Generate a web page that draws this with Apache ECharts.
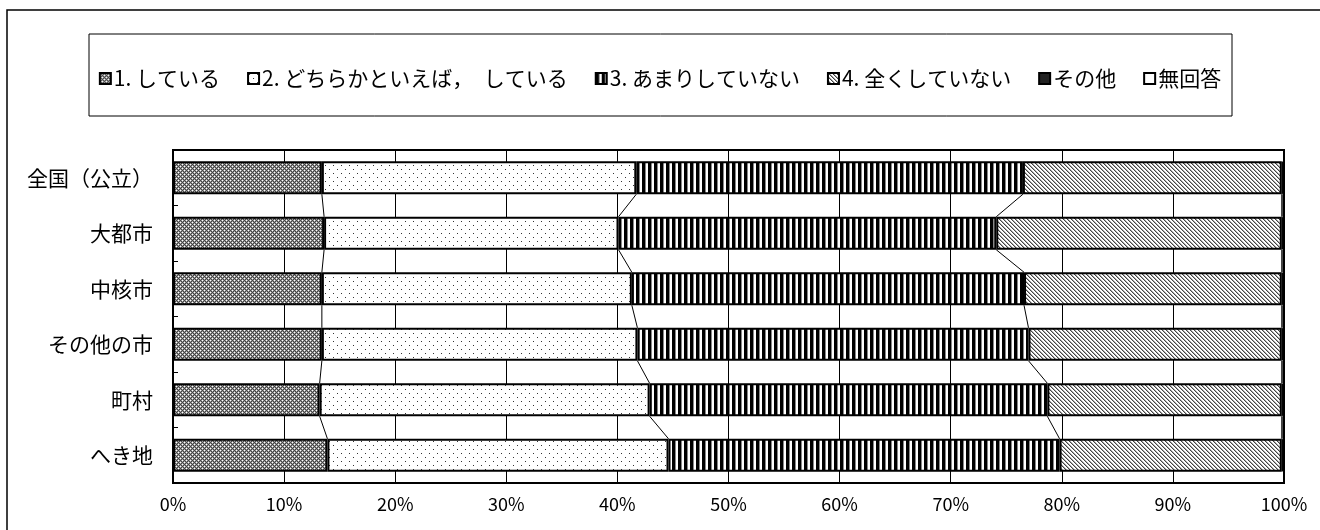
<!DOCTYPE html>
<html><head><meta charset="utf-8">
<script src="https://cdn.jsdelivr.net/npm/echarts@6/dist/echarts.min.js"></script>
<style>html,body{margin:0;padding:0;background:#fff}#c{width:1320px;height:530px}</style>
</head><body><div id="c"></div>
<script>
const categories = ['全国（公立）','大都市','中核市','その他の市','町村','へき地'];
const seriesNames = ['1. している','2. どちらかといえば，　している','3. あまりしていない','4. 全くしていない','その他','無回答'];
const s1 = [13.4, 13.6, 13.4, 13.4, 13.2, 13.9];
const s2 = [28.3, 26.5, 27.9, 28.4, 29.7, 30.7];
const s3 = [34.8, 34.0, 35.3, 35.2, 35.8, 35.2];
const s4 = [23.3, 25.7, 23.2, 22.8, 21.1, 20.0];
const s5 = [0.1, 0.1, 0.1, 0.1, 0.1, 0.1];
const s6 = [0.1, 0.1, 0.1, 0.1, 0.1, 0.1];
const xTickMin = 0, xTickMax = 100, xTickStep = 10;

const FONT = '"Noto Sans CJK JP", "Noto Sans", sans-serif';
const BAR_W = 33;

function makePattern(w, h, draw) {
  const c = document.createElement('canvas');
  c.width = w; c.height = h;
  const g = c.getContext('2d');
  g.fillStyle = '#fff'; g.fillRect(0, 0, w, h);
  draw(g);
  return { image: c, repeat: 'repeat' };
}
function px(g, x, y, col) { g.fillStyle = col; g.fillRect(x, y, 1, 1); }

const pat1 = makePattern(4, 4, g => {
  g.fillStyle = '#9a9a9a'; g.fillRect(0, 0, 4, 4);
  for (let x = 0; x < 4; x++) for (let y = 0; y < 4; y++) {
    if ((x - y + 4) % 4 === 0 || (x + y) % 4 === 0) px(g, x, y, '#444');
  }
  px(g, 0, 2, '#fff'); px(g, 2, 0, '#fff');
});
const pat2 = makePattern(8, 8, g => {
  px(g, 1, 1, '#333'); px(g, 5, 5, '#333');
});
const pat3 = makePattern(6, 1, g => {
  g.fillStyle = '#000'; g.fillRect(0, 0, 3, 1);
  px(g, 3, 0, '#888');
});
const pat4 = makePattern(4, 4, g => {
  for (let i = 0; i < 4; i++) { px(g, i, i, '#444'); px(g, (i + 1) % 4, i, '#aaa'); }
});
const pat5 = makePattern(4, 4, g => { g.fillStyle = '#222'; g.fillRect(0, 0, 4, 4); });
const pat6 = '#ffffff';

const allSeries = [s1, s2, s3, s4, s5, s6];
const pats = [pat1, pat2, pat3, pat4, pat5, pat6];

function cum(i, k) { let s = 0; for (let j = 0; j < k; j++) s += allSeries[j][i]; return s; }
const lineData = [];
for (let i = 0; i < categories.length - 1; i++) {
  for (let k = 1; k <= allSeries.length - 1; k++) {
    lineData.push([cum(i, k), i, cum(i + 1, k), i + 1]);
  }
}

const series = allSeries.map((d, idx) => ({
  name: seriesNames[idx], type: 'bar', stack: 'a', barWidth: BAR_W, data: d,
  itemStyle: { color: pats[idx], borderColor: '#000', borderWidth: idx >= 4 ? 1 : 2 },
  emphasis: { disabled: true }
}));
series.push({
  type: 'custom', silent: true, z: 10,
  data: lineData, encode: { x: [0, 2], y: [1, 3] },
  renderItem: function (params, api) {
    const a = api.coord([api.value(0), api.value(1)]);
    const b = api.coord([api.value(2), api.value(3)]);
    return { type: 'line', shape: { x1: a[0], y1: a[1] + BAR_W / 2, x2: b[0], y2: b[1] - BAR_W / 2 },
      style: { stroke: '#000', lineWidth: 1 } };
  }
});

const chart = echarts.init(document.getElementById('c'), null, { renderer: 'canvas' });
chart.setOption({
  animation: false,
  backgroundColor: '#fff',
  textStyle: { fontFamily: FONT },
  graphic: [
    { type: 'rect', shape: { x: 7, y: 10, width: 1400, height: 600 }, style: { fill: null, stroke: '#000', lineWidth: 1.5 }, z: -1 },
    { type: 'rect', shape: { x: 89, y: 34, width: 1143, height: 82 }, style: { fill: null, stroke: '#000', lineWidth: 1 }, z: -1 }
  ],
  legend: {
    data: seriesNames, left: 'center', top: 63, itemWidth: 11, itemHeight: 11, itemGap: 27,
    icon: 'rect',
    textStyle: { fontFamily: FONT, fontSize: 21, color: '#000', padding: [0, 0, 0, -2] }
  },
  grid: { left: 173, right: 36, top: 150, bottom: 47, show: true, borderColor: '#000', borderWidth: 2, backgroundColor: 'transparent' },
  xAxis: {
    type: 'value', min: xTickMin, max: xTickMax, interval: xTickStep,
    axisLabel: { formatter: '{value}%', color: '#000', fontSize: 18, fontFamily: FONT, margin: 12 },
    axisLine: { show: true, lineStyle: { color: '#000', width: 2 } },
    axisTick: { show: false },
    splitLine: { show: true, lineStyle: { color: '#000', width: 1 } }
  },
  yAxis: {
    type: 'category', inverse: true, data: categories,
    axisLabel: { color: '#000', fontSize: 21, fontFamily: FONT, margin: 20 },
    axisLine: { show: true, lineStyle: { color: '#000', width: 2 } },
    axisTick: { show: true, inside: true, length: 5, lineStyle: { color: '#000' } },
    splitLine: { show: false }
  },
  series: series
});
</script></body></html>
